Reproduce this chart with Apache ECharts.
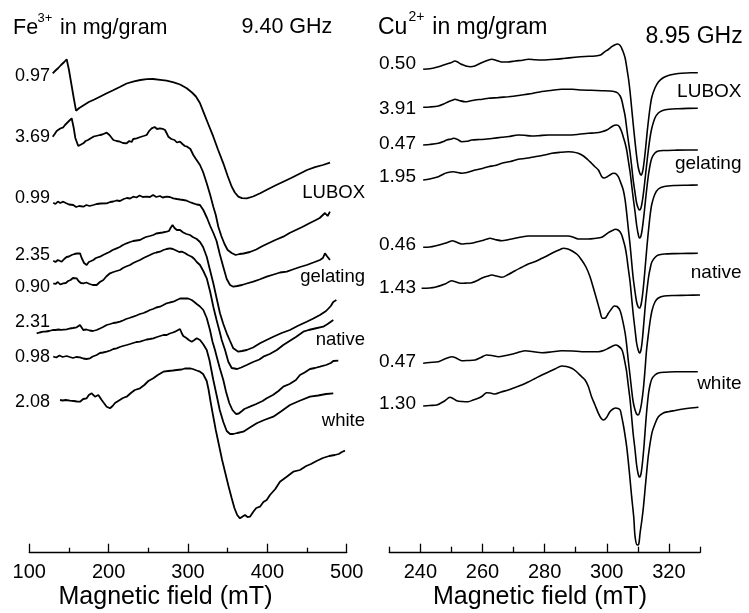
<!DOCTYPE html>
<html><head><meta charset="utf-8">
<script src="https://cdn.jsdelivr.net/npm/echarts@6/dist/echarts.min.js"></script>
<style>html,body{margin:0;padding:0;background:#fff}#c{width:749px;height:613px}</style>
</head><body><div id="c"></div>
<script>
// Left panel: Fe3+ spectra (x: mT, y: stacked offset units, top = 0)
const feLabels = ['0.97','3.69','0.99','2.35','0.90','2.31','0.98','2.08'];
const feNames = ['LUBOX','gelating','native','white'];
const fe1 = [[129.5,73.3],[133,70.5],[136.5,68],[140,65],[144,62],[147.1,59.3],[150,70],[153,84],[156,98],[158.9,110.7],[163,108],[168,105.5],[175,102],[182,99.5],[189,96.7],[197,93.5],[205,90.5],[214,87],[222.7,83.5],[232,81.3],[240,80],[248,79.2],[256,79],[265,79.8],[273,80.7],[282,82.3],[290,84.5],[298.4,88.3],[305,92.5],[310,96.5],[315,103],[319.3,111.7],[325,123],[331.9,136.7],[338,150],[344.5,163.3],[350,176],[355.1,186.7],[359,192.5],[363.4,196.7],[368,198.2],[374,198.3],[382,196.5],[391,193.3],[400,189.5],[410,185.5],[420,181.7],[430,178],[440,174],[450,170],[460,167.2],[470,165],[479,162.7]];
const fe2 = [[129.5,136.7],[132,134],[134.5,131],[136.5,129.3],[139,128.5],[142.8,127.3],[145,125],[147.1,123.3],[150,121],[153.4,118.3],[156,128],[158,138],[161.7,146],[164,144.5],[168.1,143.3],[171,141],[174,140],[177,138.5],[180.7,136.7],[184,136],[189.1,135],[192,134.5],[194,136],[197.5,132.7],[201,135],[205.9,140],[210,141],[214.3,141.7],[218,143],[222.7,143.3],[226,141],[229,142],[231,139],[235.3,138.3],[240,137],[244,136],[247.9,135],[251,131],[254.2,128.3],[258,127],[261,129],[264.7,128.3],[268,128.8],[271,130],[273,133],[275.2,136.7],[279,139],[283,140],[286,142.5],[289.9,141.7],[293,144],[296,146],[299,146.7],[303,149],[306.7,155],[310,159],[315.1,165],[319,172],[323.6,183.3],[328,195],[331.9,206.7],[335,215],[338.2,226.7],[342,236],[346,244],[350,250],[355,253],[360,255],[365,254],[370,253.5],[378,252],[386,249.5],[394,246],[402,243],[410,240],[420.1,236.7],[428,233],[436,230],[444,227],[453,223.3],[460,220.5],[466,218],[472.6,213],[476,216],[478.9,211.7]];
const fe3 = [[130.2,202.7],[133,204],[136,201.5],[139,203],[142.8,201.7],[146,203],[150,204.5],[155.4,205],[159,207],[163,206],[168.1,206.7],[172,205],[176,206],[180.7,205],[185,204],[190,203.5],[197.5,203.3],[202,202],[206,201.5],[210,200.5],[214.3,201],[219,199],[223,198],[227,198.5],[231.1,196.7],[235,197.5],[239,195.5],[243,197],[247.9,196.7],[252,197],[256,195],[260,197],[264.7,196],[268,197.5],[273,196.7],[277,197],[281.5,198.3],[286,199],[290,199.5],[294.1,200],[298.4,200.7],[302,202],[306.7,203.3],[311,204.5],[315.1,205],[319.3,210],[324,218],[328,226],[332,233],[336,241],[340,254],[344.5,267],[348.8,279],[353,285],[357.1,286.7],[362,286],[368,285],[374,283.5],[382.3,281.7],[390,279.5],[399.2,276.7],[408,274.5],[416,272.5],[424.4,271.7],[432,269.5],[441.1,267],[449.6,265],[458,262.5],[466.3,260],[470,258],[472.6,253.3],[475,256],[478.9,260]];
const fe4 = [[130.2,260.7],[133,262],[136,260],[140.8,261.7],[144,259],[147,257],[150,256.5],[153.4,255],[157,254],[160,253.5],[163.9,253.3],[166,258],[169,263],[172.3,265],[175,262],[178,261],[180.7,260],[184,258],[189.1,256.7],[193,255],[197.5,253.3],[201,252],[205,250],[210.1,248.3],[214,247],[218,245],[222.7,243.3],[227,242],[231,241],[235,240.5],[239.5,240],[243,238.5],[247,237],[252,236],[256.3,235],[260,233.5],[264,233],[268,232.5],[273.1,231.7],[276,231],[278,228],[280.5,225],[283,228],[286,230],[289.9,230],[294,232.5],[298,234],[302.5,235],[306,237],[311,239],[315.1,242],[319,247],[323.6,256.7],[327.7,270],[331.9,283.3],[336,298],[340.3,313.3],[344.5,324],[348.8,333.3],[353,341],[357.1,348.3],[363.4,351.7],[368,351],[374,350],[382,347.5],[390.7,343.3],[399,340],[407.5,336.7],[418,333],[428.5,330],[438,326],[449.6,321.7],[458,318.5],[466.3,315],[474,311],[480,306],[483,302],[487,300]];
const fe5 = [[130.2,283.3],[133,284],[136,282],[139,284.5],[142.8,283.3],[146,283],[149,281],[152,280],[155,278],[159.7,278.3],[162,281],[165,283],[168.1,283.3],[172,282.5],[176,284],[180,285],[184.9,285],[189,282],[193.3,280],[197,276.5],[201.7,273.3],[206,272],[210,271],[214.3,270],[218,268],[222,266.5],[226.9,265],[231,263],[235,261.5],[239.5,260],[244,258],[248,256.5],[252.1,255],[256,253.5],[260,252.5],[264.7,251.7],[269,250],[273,249],[277.3,248.3],[281,249],[285,250.5],[289,252],[292.1,251.7],[296,253],[300,255],[304.7,256.7],[308,259],[311,262],[315.1,265],[319.3,271],[323.6,278.3],[328,292],[331.9,306.7],[336,320],[340,332],[342.5,340],[346.7,350],[350.8,361.7],[355.1,368],[357.1,370],[362,369],[367,367.5],[374,365],[382,362],[390,359.5],[394.9,356.7],[403,354],[412,350],[420.1,345],[428,341],[436,337],[445.3,331.7],[452,330],[460,328.5],[470.4,326.7],[476,324],[483.1,320]];
const fe6 = [[109.3,333.3],[113,332.5],[117.6,331.7],[121,331.5],[125,331],[129.5,330],[133,330],[137,329.5],[140,329.8],[147.1,329.3],[151,328.5],[155,328],[159.7,327.3],[163.9,325],[166,327],[168,330],[172,329.5],[176,330.5],[180,331],[184.9,330],[189,328.5],[193,327],[197.5,325],[202,324],[206,323],[210,322.5],[214.3,321.7],[218,320.5],[222,319],[226,318],[231.1,316.7],[235,315.5],[239.5,314],[244,313],[247.9,311.7],[252,310],[256,309],[260,307.5],[264.7,306.7],[269,305],[273.1,303.3],[277,302.5],[281.5,301.7],[286,300],[290,298.5],[294.1,298.3],[296.2,297.7],[300,298.5],[304.7,300],[308,302],[311,304],[315.1,306.5],[319.3,310],[323.6,318],[327.7,330],[331,342],[334,350],[336.2,356.7],[340,368],[344.5,380],[348,392],[352,403],[356,410],[360.5,414],[364,413.5],[368,411],[371,409],[374,408],[378,406.7],[386,404],[394,401],[399.2,398.3],[407,395],[414,391],[420.1,386.7],[428,384],[436,380],[441.1,375],[447,372.5],[453.7,369],[460,368],[466.3,366.7],[474,365],[480,363],[483.1,361],[489.4,360.7]];
const fe7 = [[130.2,356.7],[134,357.5],[138,355.5],[142,357],[147.1,356],[151,357],[155,358],[159,357],[163.9,357.3],[168,358.5],[172,359],[176.5,358.3],[180,356.5],[184.9,355],[189,353],[193,352.5],[197.5,351.7],[202,350.5],[206,349],[210.1,348.3],[214,347],[218,346],[222.7,345],[227,344],[231,343],[235,342],[239.5,341.7],[244,340.5],[248,339.5],[252,339],[256.3,338.3],[261,337],[265,336],[269,335],[273.1,335],[277,333.5],[281,332.5],[283.6,331.7],[286,330],[289.9,329],[292,333],[294,336],[296,338],[298.4,338.3],[301,340],[304.7,341.7],[308,340],[311,338.3],[315.1,340],[319,344],[323.6,350],[327,360],[331.9,380],[336,395],[340,410],[344.5,422],[348.8,431],[353,434],[357.1,434],[362,433],[369.7,431.7],[378,427.5],[386.6,423.3],[396,420],[407.5,416.7],[418,411],[428.5,405],[440,401],[453.7,396.7],[464,395.5],[474,394],[483.1,393.3]];
const fe8 = [[138.7,400],[142,400.5],[146,400],[151.3,400.7],[156,401],[160,401.5],[163.9,401.7],[168,399],[172.3,398.3],[175,395],[178.6,393.3],[181,395],[182.8,396.7],[185,396],[187,395],[189,397],[191.2,400],[194,403],[197.5,406.7],[201.7,408.3],[205,406],[208,403],[210.1,401.7],[214,400],[218,398],[222.7,396.7],[228,393],[233,390],[239.5,388.3],[245,385],[250,381],[256.3,378.3],[262,375],[268.9,371.7],[275,371],[281,370.5],[285.8,370],[292,369.5],[296,368.5],[302.5,368.3],[306,369],[311,370.5],[315.1,371.7],[319,374],[323.6,381],[326,390],[328.5,402],[331,413],[335,430],[339,445],[343,460],[347,473],[351,486],[355,498],[358.5,508],[362,515],[365.5,518.3],[368,517],[371.8,515],[375,517],[378.1,516.7],[382.3,511.7],[386,508],[390.7,506.7],[395,502],[399.2,500],[403.3,495],[410,489],[415.9,481.7],[424,477],[432.7,471.7],[441.1,470],[449,466],[455,464],[462,461],[470,458],[478,456],[485,455],[490,454],[494,452],[497.8,450.7]];

// Right panel: Cu2+ spectra
const cuLabels = ['0.50','3.91','0.47','1.95','0.46','1.43','0.47','1.30'];
const cuNames = ['LUBOX','gelating','native','white'];
const cu1 = [[240.9,69.3],[243,68.8],[245.8,66.7],[247,65.5],[248.5,64],[250,62.5],[251.1,61],[252,62],[253,64],[253.8,65],[255,66.3],[256,66.7],[257.5,66],[259.7,62.7],[261.5,60.5],[263,59.3],[264.5,60.5],[266.2,62],[268,62],[270.5,61],[273,60.2],[274.7,59.3],[277,59.8],[279.1,60],[281,59.8],[283.3,59.3],[286,58.5],[289.8,57.3],[293,56.5],[296.2,56],[298,55],[299.4,51.7],[300.5,49.5],[301.6,46.7],[302.5,45],[303.5,44],[304.3,45.5],[304.8,48.3],[305.3,52],[305.9,58],[306.4,67],[307,79],[307.5,92],[308,108],[308.5,124],[309.1,142],[309.6,156],[310.1,167],[310.6,173],[311,175],[311.5,172],[312,162],[312.5,148],[313,132],[313.5,118],[314,106],[314.5,97],[315.5,88],[316.6,82],[318,78],[319.8,75.5],[322,74],[324.1,73.2],[327,72.7],[329.3,72.7]];
const cu2 = [[240.9,107.3],[243,107],[245.8,106],[247.5,104],[249,101.7],[250.5,100],[251.1,99.3],[252.5,100.5],[254.4,101.7],[256,101],[257.6,100],[260,99.2],[261.9,98.3],[265,97.6],[268.3,96.7],[271,95.8],[273.7,94.5],[276,93.5],[279.1,91.5],[282,90.5],[285.5,89.3],[289,89.3],[291.9,90],[295,90.3],[298.4,90.7],[301,91],[302.6,91.7],[303.5,93],[304.3,96],[304.8,100],[305.3,107],[305.9,116],[306.4,128],[306.9,140],[307.5,153],[308,166],[308.5,180],[309.1,193],[309.6,203],[310.1,208],[310.5,210],[311,208],[311.5,200],[312,188],[312.5,174],[313,160],[313.5,147],[314,136],[314.5,128],[315.5,118],[316.6,113],[318,110.5],[320,109.3],[323,108.7],[326,108.4],[329.3,108.3]];
const cu3 = [[240.9,145],[243,144.5],[245.8,143.3],[247.5,141.5],[248.5,140],[250,139],[250.6,138.3],[252,139.5],[253.3,141.7],[255,141.3],[256.5,140],[259,139.5],[260.8,139.3],[263,138.5],[266.2,137.3],[268.5,136.5],[271.5,135],[273.5,135.3],[275.8,136],[278,135.7],[281.2,135],[284,135],[287.6,135],[291,134.3],[294,133.3],[296.5,132.8],[298.4,131.7],[300,130],[301.6,126.7],[302.5,125.3],[303.2,125],[304,126.5],[304.8,131.7],[305.3,137],[305.9,143.3],[306.4,150],[306.9,160],[307.5,172],[308,185],[308.5,198],[309.1,212],[309.6,225],[310.1,234],[310.5,238],[311,236],[311.5,227],[312,214],[312.5,199],[313,185],[313.5,173],[314,164],[314.5,158],[315.5,153],[316.6,151],[318.5,150.5],[322,150.2],[326,150],[329.3,150]];
const cu4 = [[240.9,180],[243,179],[245.8,176.7],[247.5,174],[248.5,172.7],[250.6,171.7],[252,172.5],[253.3,173.3],[255,172.5],[257.6,170],[260,168.5],[261.9,166.7],[264,165.5],[266.2,163.3],[269,161.5],[271.5,159.3],[274,158.3],[276.9,156.7],[279.5,155.3],[282.3,153.3],[285,152.3],[287.6,151.7],[289,152],[290.8,153.3],[292.5,156],[294,160],[295,163],[296.2,166.7],[297.3,170],[298.4,176.7],[299.2,178],[300,177],[301,175],[302.1,173.3],[302.8,173.5],[303.7,176.7],[304.4,182],[305.3,190],[305.9,200],[306.4,213],[306.9,228],[307.5,245],[308,262],[308.5,278],[309.1,292],[309.6,302],[310.1,307],[310.5,308],[311,305],[311.5,295],[312,280],[312.5,262],[313,244],[313.5,228],[314,214],[314.5,204],[315.5,194],[316.6,189],[318.5,186.5],[322,185.5],[326,185.2],[329.3,185]];
const cu5 = [[240.9,247.3],[243,247],[244.7,246],[247.9,243.3],[249.5,241.5],[250.3,240.7],[251.5,242],[253.3,244],[255,243.5],[256.5,243.3],[258,242],[259.7,240.7],[261.2,239.3],[262.4,238.3],[264,239.5],[266.2,240.7],[268.5,239.5],[270.5,238.3],[272.5,237],[274.7,236],[278,236],[281.2,236],[284,236],[287.6,236],[289,237],[290.8,239],[292.5,239],[294,239],[296,238.5],[298.4,237.3],[300.5,232.7],[301.5,231],[302.9,229.3],[303.6,230],[304.3,232],[304.8,235],[305.3,240],[305.9,247],[306.4,256],[306.9,268],[307.5,282],[308,298],[308.5,314],[309.1,330],[309.6,343],[310.1,350],[310.5,353],[311,350],[311.5,338],[312,320],[312.5,302],[313,288],[313.5,276],[314,268],[314.5,262],[315.5,257.5],[316.6,255],[318.5,254],[322,253.6],[326,253.4],[329.3,253.3]];
const cu6 = [[240.4,288.3],[243,288],[244.7,287.3],[247.9,284],[250.1,280.7],[251.5,282],[253.3,283.3],[255,283],[256.5,282.7],[258,281],[259.7,278.3],[261.5,276.3],[263,275],[264.5,276],[266.2,277.3],[268.3,274.5],[270.5,270.7],[272.5,267.5],[274.7,264],[277,261.5],[279.1,258.3],[281,255.5],[283.3,251.7],[285,249.5],[286,248.3],[287.5,249],[288.7,250.7],[290.5,254.5],[291.9,260],[293.3,267],[294.6,276.7],[295.6,287],[296.8,300],[297.7,310],[298.6,318.3],[299.5,318],[300.5,313.3],[301.5,309],[302.4,306],[303.3,306.5],[304.3,310.7],[305.3,323.3],[305.9,333],[306.4,345],[306.9,360],[307.5,376],[308,390],[308.5,402],[309.1,410],[309.6,414],[310.1,415],[310.6,412],[311.2,403],[311.8,388],[312.3,370],[312.8,350],[313.4,334],[314,320],[314.6,310],[315.5,302],[316.6,298],[318.5,296],[322,295.5],[326,295.2],[330,295]];
const cu7 = [[240.9,363.3],[243,362.5],[245.8,361.7],[247.5,359.5],[250.1,356.7],[251.5,358],[253.3,360.7],[255,360.5],[257.6,360],[259.5,357.5],[261.3,355],[263,355.5],[265.1,356.7],[267.5,355.5],[270.5,353.3],[273.7,350.7],[276,351.5],[279.1,352.7],[282,352],[285.5,350.7],[289,351],[291.9,351.7],[295,351.7],[297.3,351.7],[299,350.5],[300.5,348.3],[301.6,346.5],[302.9,345],[303.7,346],[304.8,349.3],[305.3,354],[305.9,363.3],[306.4,372],[306.9,385],[307.5,400],[308,417],[308.5,434],[309.1,450],[309.6,465],[310.1,474],[310.5,477],[311,474],[311.5,462],[312,445],[312.5,424],[313,406],[313.5,392],[314,384],[314.5,379],[315.5,375],[316.6,373],[318.7,372.2],[322,371.8],[326,371.7],[329.3,371.7]];
const cu8 = [[240.9,406],[243,405.5],[245.3,405],[247.9,400.7],[249.5,397.3],[250.5,398.5],[251.7,400.7],[253.5,401.5],[255.4,401.7],[257,400],[258.6,398.3],[260,396],[261.3,392.7],[262.5,393],[264,394],[266,392],[268.3,390],[270.5,387.5],[272.6,385],[274.7,382],[276.9,378.5],[279.1,375],[281.2,372],[283.3,369],[285.5,366],[287,366.5],[288.7,368.3],[290,371],[291.9,376.7],[293,380],[294,386],[295.1,396.7],[296.2,405],[297.3,413.3],[298.1,418],[298.9,420],[299.8,418],[301,411.7],[302,409],[302.9,408],[303.6,408.5],[304.3,410],[304.8,416.7],[305.5,428],[306.4,446.7],[307.2,470],[308,496.7],[308.7,518],[309.1,536.7],[309.8,545],[310.3,544],[310.7,533.3],[311.3,520],[311.8,506.7],[312.3,490],[312.8,473.3],[313.4,455],[314.5,433.3],[315.5,424],[316.6,416.7],[318.2,413],[319.8,411.7],[322,410.5],[324.1,409.3],[327,408],[329.5,407.3]];

const feTicks = [100, 200, 300, 400, 500];
const cuMajorTicks = [240, 260, 280, 300, 320];
const cuMinorTicks = [230, 250, 270, 290, 310, 330];

const feSeries = [fe1, fe2, fe3, fe4, fe5, fe6, fe7, fe8];
const cuSeries = [cu1, cu2, cu3, cu4, cu5, cu6, cu7, cu8];

// layout (positions only)
const FONT = '"Liberation Sans", Arial, sans-serif';
const feLabelY = [76, 136.7, 198.3, 255, 287.3, 321.7, 356.7, 401.7];
const cuLabelY = [63.3, 108.3, 143.3, 176.7, 245, 287.3, 361.7, 404];
const feNameY = [193.3, 277.3, 340, 420.7];
const cuNameY = [91.7, 163.3, 272.7, 384];

const chart = echarts.init(document.getElementById('c'), null, {renderer: 'canvas'});
const H = 552.7;
const series = [];
feSeries.forEach((d) => series.push({type: 'line', xAxisIndex: 0, yAxisIndex: 0, data: d, showSymbol: false, symbol: 'none',
  lineStyle: {color: '#000', width: 1.8}, animation: false, silent: true}));
cuSeries.forEach((d) => series.push({type: 'line', xAxisIndex: 1, yAxisIndex: 1, data: d, showSymbol: false, symbol: 'none', smooth: 0.3,
  lineStyle: {color: '#000', width: 1.6}, animation: false, silent: true}));

const txt = (x, y, s, size, align) => ({type: 'text', x: x, y: y, silent: true,
  style: {text: s, fill: '#000', font: size + 'px ' + FONT, textAlign: align || 'left', textVerticalAlign: 'middle'}});

const graphics = [
  txt(13, 28.5, 'Fe', 21.5), txt(37.5, 18, '3+', 13), txt(60, 28.5, 'in mg/gram', 21.5),
  txt(241.5, 26.7, '9.40 GHz', 21.5),
  txt(378, 28, 'Cu', 23), txt(408.5, 17, '2+', 14), txt(432.3, 28, 'in mg/gram', 23),
  txt(645.5, 36.7, '8.95 GHz', 23),
  txt(165.5, 597, 'Magnetic field (mT)', 25, 'center'),
  txt(540, 596.7, 'Magnetic field (mT)', 25, 'center')
];
feLabels.forEach((s, i) => graphics.push(txt(50, feLabelY[i], s, 18, 'right')));
cuLabels.forEach((s, i) => graphics.push(txt(416, cuLabelY[i], s, 19, 'right')));
feNames.forEach((s, i) => graphics.push(txt(365, feNameY[i], s, 18.5, 'right')));
cuNames.forEach((s, i) => graphics.push(txt(741.5, cuNameY[i], s, 19, 'right')));

const axLine = {show: true, onZero: false, lineStyle: {color: '#000', width: 1.3}};
chart.setOption({
  animation: false,
  backgroundColor: '#fff',
  grid: [
    {left: 29.3, width: 317.4, top: 0, height: H},
    {left: 389.3, width: 310.7, top: 0, height: H}
  ],
  xAxis: [
    {type: 'value', gridIndex: 0, position: 'bottom', min: 100, max: 500, interval: 100, axisLine: axLine,
     axisTick: {show: true, inside: true, length: 9, lineStyle: {color: '#000', width: 1.3}},
     minorTick: {show: true, splitNumber: 2, length: 5, lineStyle: {color: '#000', width: 1.3}},
     axisLabel: {show: true, margin: 10, color: '#000', fontSize: 20, fontFamily: FONT, customValues: feTicks},
     splitLine: {show: false}, minorSplitLine: {show: false}},
    {type: 'value', gridIndex: 1, position: 'bottom', min: 230, max: 330, axisLine: axLine,
     axisTick: {show: true, inside: true, length: 9, customValues: cuMajorTicks, lineStyle: {color: '#000', width: 1.3}},
     axisLabel: {show: true, margin: 10, color: '#000', fontSize: 20, fontFamily: FONT, customValues: cuMajorTicks},
     splitLine: {show: false}},
    {type: 'value', gridIndex: 1, position: 'bottom', min: 230, max: 330, axisLine: {show: false, onZero: false},
     axisTick: {show: true, inside: true, length: 6, customValues: cuMinorTicks, lineStyle: {color: '#000', width: 1.3}},
     axisLabel: {show: false}, splitLine: {show: false}}
  ],
  yAxis: [
    {type: 'value', gridIndex: 0, min: 0, max: H, inverse: true, show: false},
    {type: 'value', gridIndex: 1, min: 0, max: H, inverse: true, show: false}
  ],
  series: series,
  graphic: graphics
});
</script></body></html>
